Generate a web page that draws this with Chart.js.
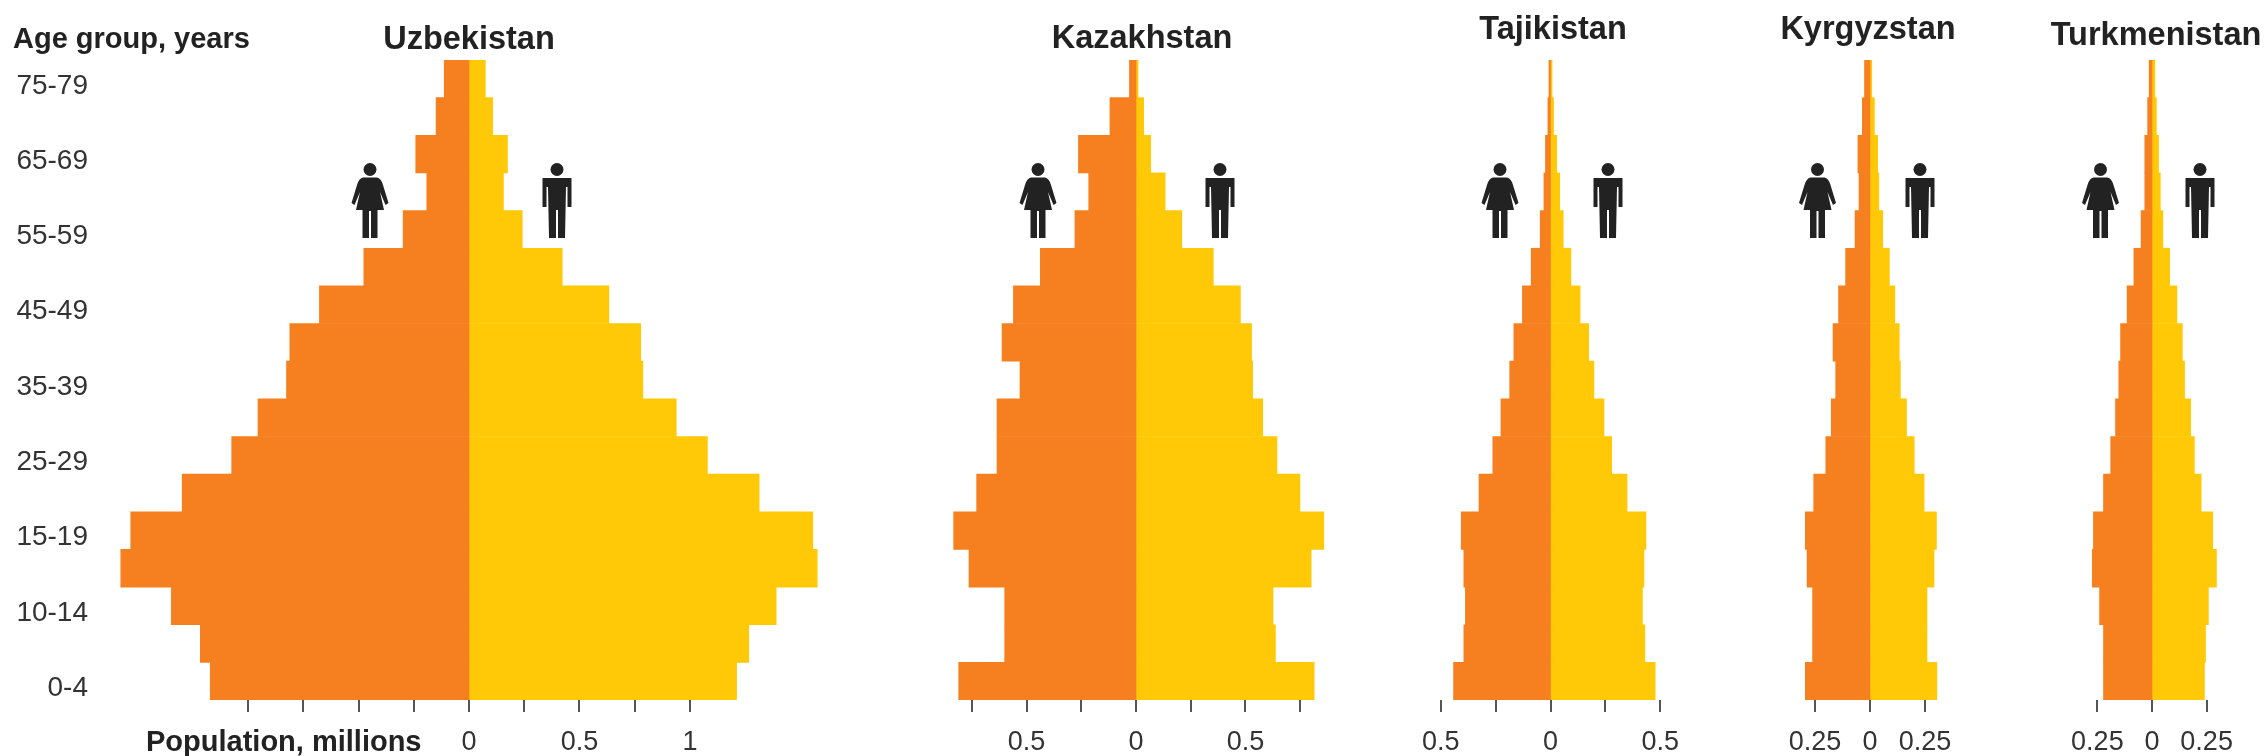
<!DOCTYPE html>
<html>
<head>
<meta charset="utf-8">
<title>Central Asia population pyramids</title>
<script src="https://cdn.jsdelivr.net/npm/chart.js@4/dist/chart.umd.min.js"></script>
<style>
  html, body { margin: 0; padding: 0; background: #fff; }
  #page { position: relative; width: 2265px; height: 756px; overflow: hidden; }
  canvas { position: absolute; top: 0; }
</style>
</head>
<body>
<div id="page"></div>
<script>
// Age bands from the oldest row down; alternate rows carry no label.
const ageGroups = ['75-79','','65-69','','55-59','','45-49','','35-39','','25-29','','15-19','','10-14','','0-4'];

// Population in millions, same row order as ageGroups.
const uzbekistanFemale = [.112,.149,.241,.191,.298,.476,.677,.811,.826,.955,1.074,1.298,1.531,1.576,1.347,1.216,1.171];
const uzbekistanMale   = [.074,.107,.174,.156,.241,.422,.633,.777,.787,.938,1.079,1.313,1.556,1.576,1.39,1.266,1.211];
const kazakhstanFemale = [.03,.119,.263,.216,.279,.437,.56,.612,.53,.635,.635,.728,.833,.763,.6,.6,.81];
const kazakhstanMale   = [.009,.035,.067,.133,.209,.353,.477,.528,.533,.579,.644,.749,.858,.8,.626,.637,.814];
const tajikistanFemale = [.007,.012,.023,.03,.047,.088,.128,.167,.186,.226,.263,.326,.407,.395,.388,.395,.442];
const tajikistanMale   = [.007,.014,.028,.042,.058,.093,.135,.174,.198,.244,.279,.349,.435,.426,.419,.43,.477];
const kyrgyzstanFemale = [.025,.035,.055,.05,.068,.111,.143,.168,.156,.176,.201,.256,.294,.286,.261,.261,.294];
const kyrgyzstanMale   = [.008,.02,.035,.04,.058,.088,.113,.133,.138,.166,.201,.246,.302,.291,.259,.259,.304];
const turkmenistanFemale = [.013,.02,.033,.033,.05,.083,.114,.144,.152,.167,.189,.222,.268,.273,.24,.222,.222];
const turkmenistanMale   = [.013,.02,.03,.038,.05,.081,.114,.139,.149,.177,.194,.225,.278,.295,.258,.245,.24];

// Axis ticks per country and the labels printed under them.
const uzbekistanTicks = [-1,-.75,-.5,-.25,0,.25,.5,.75,1];
const uzbekistanTickLabels = ['','','','','0','','0.5','','1'];
const kazakhstanTicks = [-.75,-.5,-.25,0,.25,.5,.75];
const kazakhstanTickLabels = ['','0.5','','0','','0.5',''];
const tajikistanTicks = [-.5,-.25,0,.25,.5];
const tajikistanTickLabels = ['0.5','','0','','0.5'];
const kyrgyzstanTicks = [-.25,0,.25];
const kyrgyzstanTickLabels = ['0.25','0','0.25'];
const turkmenistanTicks = [-.25,0,.25];
const turkmenistanTickLabels = ['0.25','0','0.25'];

const FEMALE_COLOR = '#F6801F';
const MALE_COLOR = '#FFC907';
const INK = '#222222';
const LABEL_INK = '#333333';
const TICK_INK = '#555555';
const FONT_FAMILY = '"Liberation Sans", Arial, sans-serif';
const PLOT_TOP = 60, PLOT_BOTTOM = 700, PAGE_HEIGHT = 756;

// Screen layout of each panel: canvas box, axis half-range, caption and figure placement.
const panels = [
  { name:'Uzbekistan', female:uzbekistanFemale, male:uzbekistanMale, ticks:uzbekistanTicks, tickLabels:uzbekistanTickLabels,
    left:0, width:838, half:1.67, axisWidth:100, titleX:469, titleY:40, femaleX:370, maleX:557 },
  { name:'Kazakhstan', female:kazakhstanFemale, male:kazakhstanMale, ticks:kazakhstanTicks, tickLabels:kazakhstanTickLabels,
    left:939, width:394, half:.9, axisWidth:0, titleX:1142, titleY:39, femaleX:1038, maleX:1220 },
  { name:'Tajikistan', female:tajikistanFemale, male:tajikistanMale, ticks:tajikistanTicks, tickLabels:tajikistanTickLabels,
    left:1375, width:351, half:.8, axisWidth:0, titleX:1553, titleY:30, femaleX:1500, maleX:1608 },
  { name:'Kyrgyzstan', female:kyrgyzstanFemale, male:kyrgyzstanMale, ticks:kyrgyzstanTicks, tickLabels:kyrgyzstanTickLabels,
    left:1738, width:264, half:.6, axisWidth:0, titleX:1868, titleY:30, femaleX:1817.5, maleX:1920 },
  { name:'Turkmenistan', female:turkmenistanFemale, male:turkmenistanMale, ticks:turkmenistanTicks, tickLabels:turkmenistanTickLabels,
    left:2041, width:222, half:.508, axisWidth:0, titleX:2156, titleY:36, femaleX:2100.5, maleX:2200 }
];

// Pictogram of a woman, origin at the top centre, 75 units tall.
function drawWoman(ctx, x, y) {
  ctx.save();
  ctx.translate(x, y);
  ctx.fillStyle = INK;
  ctx.beginPath();
  ctx.arc(0, 6.5, 6.5, 0, Math.PI * 2);
  ctx.fill();
  ctx.beginPath();
  ctx.moveTo(-7, 14.5);
  ctx.lineTo(7, 14.5);
  ctx.quadraticCurveTo(11, 15, 13, 22);
  ctx.lineTo(18.5, 40);
  ctx.lineTo(15.5, 42);
  ctx.lineTo(10, 29);
  ctx.lineTo(14, 47);
  ctx.lineTo(7.5, 47);
  ctx.lineTo(7.5, 75);
  ctx.lineTo(1, 75);
  ctx.lineTo(1, 48);
  ctx.lineTo(-1, 48);
  ctx.lineTo(-1, 75);
  ctx.lineTo(-7.5, 75);
  ctx.lineTo(-7.5, 47);
  ctx.lineTo(-14, 47);
  ctx.lineTo(-10, 29);
  ctx.lineTo(-15.5, 42);
  ctx.lineTo(-18.5, 40);
  ctx.lineTo(-13, 22);
  ctx.quadraticCurveTo(-11, 15, -7, 14.5);
  ctx.closePath();
  ctx.fill();
  ctx.restore();
}

// Pictogram of a man, origin at the top centre, 75 units tall.
function drawMan(ctx, x, y) {
  ctx.save();
  ctx.translate(x, y);
  ctx.fillStyle = INK;
  ctx.beginPath();
  ctx.arc(0, 6.5, 6.5, 0, Math.PI * 2);
  ctx.fill();
  ctx.beginPath();
  ctx.moveTo(-14.5, 15);
  ctx.lineTo(14.5, 15);
  ctx.lineTo(14.5, 44);
  ctx.lineTo(10.5, 44);
  ctx.lineTo(10.5, 24);
  ctx.lineTo(9, 24);
  ctx.lineTo(8, 75);
  ctx.lineTo(1, 75);
  ctx.lineTo(1, 47);
  ctx.lineTo(-1, 47);
  ctx.lineTo(-1, 75);
  ctx.lineTo(-8, 75);
  ctx.lineTo(-9, 24);
  ctx.lineTo(-10.5, 24);
  ctx.lineTo(-10.5, 44);
  ctx.lineTo(-14.5, 44);
  ctx.closePath();
  ctx.fill();
  ctx.restore();
}

// Captions and pictograms for one panel, in page coordinates minus the canvas offset.
const panelDecor = {
  id: 'panelDecor',
  afterDraw(chart, args, opts) {
    const ctx = chart.ctx;
    const p = opts.panel;
    ctx.save();
    ctx.fillStyle = INK;
    ctx.textAlign = 'center';
    ctx.textBaseline = 'middle';
    ctx.font = 'bold 32.5px ' + FONT_FAMILY;
    ctx.fillText(p.name, p.titleX - p.left, p.titleY);
    if (p.axisWidth) {
      ctx.font = 'bold 29px ' + FONT_FAMILY;
      ctx.textAlign = 'left';
      ctx.fillText('Age group, years', 13, 40);
      ctx.fillText('Population, millions', 146, 743);
    }
    ctx.restore();
    drawWoman(ctx, p.femaleX - p.left, 163);
    drawMan(ctx, p.maleX - p.left, 163);
  }
};

panels.forEach(function (p) {
  const canvas = document.createElement('canvas');
  canvas.width = p.width;
  canvas.height = PAGE_HEIGHT;
  canvas.style.left = p.left + 'px';
  canvas.style.width = p.width + 'px';
  canvas.style.height = PAGE_HEIGHT + 'px';
  document.getElementById('page').appendChild(canvas);

  new Chart(canvas, {
    type: 'bar',
    data: {
      labels: ageGroups,
      datasets: [
        { label: 'Female', data: p.female.map(function (v) { return -v; }), backgroundColor: FEMALE_COLOR, borderWidth: 0 },
        { label: 'Male', data: p.male, backgroundColor: MALE_COLOR, borderWidth: 0 }
      ]
    },
    options: {
      indexAxis: 'y',
      responsive: false,
      animation: false,
      devicePixelRatio: 1,
      layout: { padding: { top: PLOT_TOP, left: 0, right: 0, bottom: 0 } },
      datasets: { bar: { barPercentage: 1, categoryPercentage: 1 } },
      plugins: {
        legend: { display: false },
        tooltip: { enabled: false },
        panelDecor: { panel: p }
      },
      scales: {
        x: {
          type: 'linear',
          stacked: true,
          min: -p.half,
          max: p.half,
          border: { display: false },
          // lineWidth 0 keeps the two halves touching along the zero line.
          grid: { drawOnChartArea: false, drawTicks: true, lineWidth: 0, tickLength: 12, tickWidth: 2, tickColor: TICK_INK },
          afterBuildTicks: function (scale) {
            scale.ticks = p.ticks.map(function (v) { return { value: v }; });
          },
          afterFit: function (scale) { scale.height = PAGE_HEIGHT - PLOT_BOTTOM; },
          ticks: {
            autoSkip: false,
            maxRotation: 0,
            padding: 14,
            color: LABEL_INK,
            font: { family: FONT_FAMILY, size: 27 },
            callback: function (value, index) { return p.tickLabels[index]; }
          }
        },
        y: {
          stacked: true,
          display: p.axisWidth > 0,
          border: { display: false },
          grid: { display: false, drawTicks: false },
          afterFit: function (scale) { scale.width = p.axisWidth; },
          ticks: {
            autoSkip: false,
            padding: 12,
            labelOffset: 7,
            color: LABEL_INK,
            font: { family: FONT_FAMILY, size: 28 }
          }
        }
      }
    },
    plugins: [panelDecor]
  });
});
</script>
</body>
</html>
